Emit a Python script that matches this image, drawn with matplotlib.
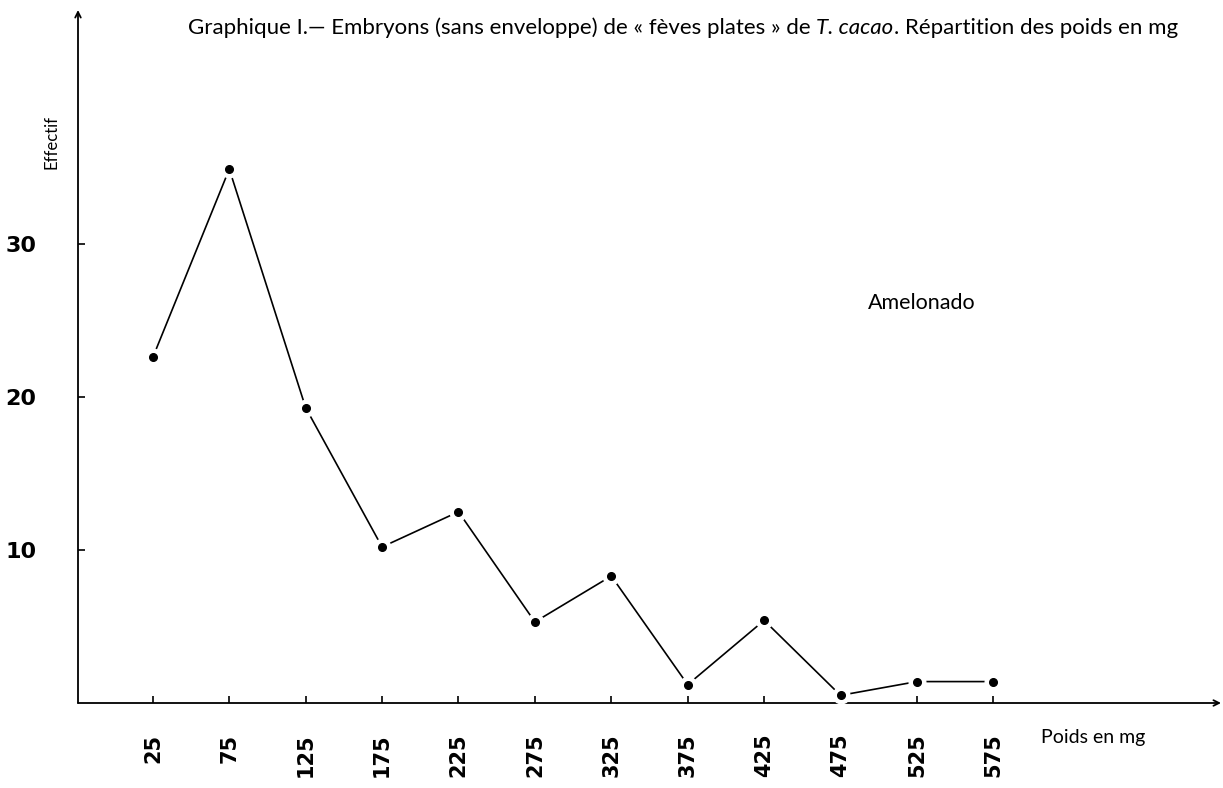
import matplotlib

matplotlib.use("Agg")
import matplotlib.pyplot as plt

# poids (mg, centre de classe) et effectifs
poids = [25, 75, 125, 175, 225, 275, 325, 375, 425, 475, 525, 575]
effectif = [22.6, 34.9, 19.3, 10.2, 12.5, 5.3, 8.3, 1.2, 5.4, 0.5, 1.4, 1.4]
y_ticks = [10, 20, 30]
x_labels = [str(p) for p in poids]

title_a = "Graphique I.— Embryons (sans enveloppe) de « fèves plates » de "
title_b = "T. cacao"
title_c = ". Répartition des poids en mg"

plt.rcParams["font.family"] = ["Lato", "DejaVu Sans"]

fig = plt.figure(figsize=(12.23, 7.88), dpi=100)
W, H = 1223, 788
ax = fig.add_axes([78 / W, (H - 703) / H, (1221 - 78) / W, (703 - 10) / H])
ax.set_xlim(-24, 724)
ax.set_ylim(0, 45.3)

for s in ax.spines.values():
    s.set_visible(False)

# axes drawn as arrows
ax.annotate("", xy=(1, 0), xytext=(0, 0), xycoords="axes fraction",
            arrowprops=dict(arrowstyle="->", lw=1.3, color="black",
                            shrinkA=0, shrinkB=0))
ax.annotate("", xy=(0, 1), xytext=(0, 0), xycoords="axes fraction",
            arrowprops=dict(arrowstyle="->", lw=1.3, color="black",
                            shrinkA=0, shrinkB=0))

# the curve, with small gaps around each point as on the original
ax.plot(poids, effectif, color="black", lw=1.2, zorder=2)
ax.plot(poids, effectif, "o", color="white", ms=12, zorder=3)
ax.plot(poids, effectif, "o", color="black", ms=5.5, zorder=4)

ax.set_xticks(poids)
ax.set_xticklabels(x_labels, rotation=90, va="top", fontsize=15,
                   fontweight="bold", family="DejaVu Sans")
ax.set_yticks(y_ticks)
ax.set_yticklabels([str(v) for v in y_ticks], fontsize=16,
                   fontweight="bold", family="DejaVu Sans")
ax.tick_params(axis="x", direction="in", length=5, width=1.2, pad=22)
ax.tick_params(axis="y", direction="in", length=5, width=1.2, pad=30)

ax.text(-0.023, 0.81, "Effectif", transform=ax.transAxes, rotation=90,
        ha="center", va="center", fontsize=12)
fig.text(868 / W, 1 - 303 / H, "Amelonado", fontsize=15.5, ha="left",
         va="center")
fig.text(1041 / W, 1 - 738 / H, "Poids en mg", fontsize=14, ha="left",
         va="center")

# title in three pieces so that the species name is in italics
fig.canvas.draw()
renderer = fig.canvas.get_renderer()
x = 188 / W
y = 1 - 28 / H
for txt, style in [(title_a, "normal"), (title_b, "italic"), (title_c, "normal")]:
    t = fig.text(x, y, txt, fontsize=16, style=style, ha="left", va="center")
    bb = t.get_window_extent(renderer)
    x = bb.x1 / W

fig.savefig("out.png", dpi=100, facecolor="white")
